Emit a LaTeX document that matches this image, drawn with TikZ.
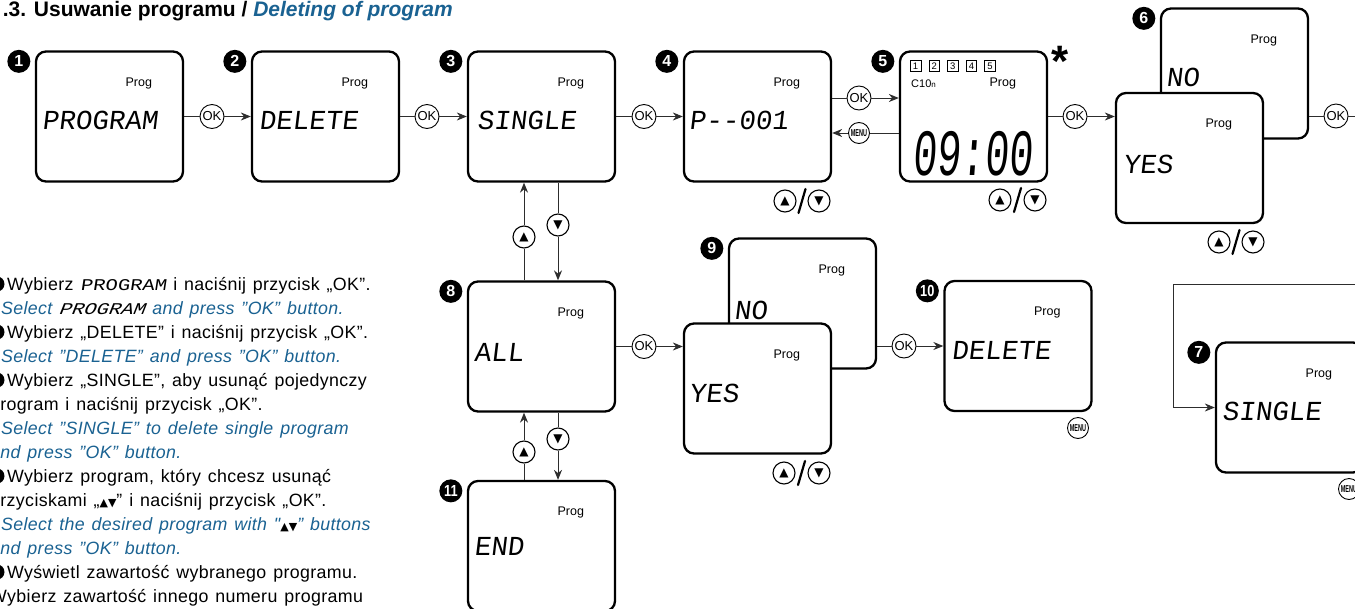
\documentclass[tikz,border=0pt]{standalone}
\usepackage{graphicx}
\usepackage{fontspec}
\setmainfont{Liberation Sans}
\newfontfamily\bodyfont{Liberation Sans}[LetterSpace=2,WordSpace=1.3]
\newfontfamily\lcdfont{Liberation Mono}[FakeSlant=0.12]
\newfontfamily\symfont{DejaVu Sans}
\usetikzlibrary{arrows.meta,positioning,calc}
\definecolor{mnblue}{RGB}{26,98,146}
\definecolor{mnline}{RGB}{45,45,45}
\newcommand{\lcdword}[1]{{\color{black}\lcdfont\fontsize{20.5}{20}\selectfont\scalebox{1}[0.8]{#1}}}
\newcommand{\updn}{{\color{black}\symfont\fontsize{11}{11}\selectfont ▲▼}}

\begin{document}
\begin{tikzpicture}[
  x=1pt,y=-1pt,
  every node/.style={font=\fontsize{11}{13}\selectfont},
  screen/.style={draw,line width=2.3pt,rounded corners=10pt,fill=white,
                 minimum width=147pt,minimum height=130pt,inner sep=0pt},
  badge/.style={circle,fill=black,text=white,inner sep=0pt,minimum size=23pt,
                font=\fontsize{16}{16}\selectfont\bfseries},
  txtbadge/.style={badge,minimum size=15pt,font=\fontsize{10}{10}\selectfont\bfseries},
  okbtn/.style={circle,draw,line width=0.9pt,fill=white,inner sep=0pt,minimum size=24pt,
                font=\fontsize{13}{13}\selectfont},
  menubtn/.style={circle,draw,line width=0.9pt,fill=white,inner sep=0pt,minimum size=21pt,
                  font=\fontsize{10}{10}\selectfont\bfseries},
  arrbtn/.style={circle,draw,line width=1.1pt,fill=white,inner sep=0pt,minimum size=22pt,
                 font=\symfont\fontsize{12}{12}\selectfont},
  lcd/.style={anchor=west,inner sep=0pt,font=\lcdfont\fontsize{27.5}{27.5}\selectfont},
  proglbl/.style={inner sep=0pt,font=\fontsize{12.5}{12.5}\selectfont},
  numsq/.style={draw,line width=0.6pt,inner sep=0pt,minimum size=10.5pt,font=\fontsize{9.5}{9.5}\selectfont},
  conn/.style={line width=1pt,draw=mnline},
  arr/.style={conn,-{Stealth[length=10pt,width=8pt]}},
  slash/.style={line width=2.2pt,line cap=round},
  txt/.style={anchor=base west,inner sep=0pt,font=\bodyfont\fontsize{17.8}{18}\selectfont},
  entxt/.style={txt,text=mnblue,font=\bodyfont\fontsize{17.8}{18}\selectfont\itshape},
]
  \useasboundingbox (0,0) rectangle (1355,608);
  \fill[white] (0,0) rectangle (1355,608);
  \clip (0,0) rectangle (1355,608);

  % Title
  \node[anchor=base east,inner sep=0pt,font=\fontsize{21}{21}\selectfont\bfseries] (title) at (453,16.5)
    {.3. Usuwanie programu / \textcolor{mnblue}{\itshape Deleting of program}};

  % Screens, top row
  \node[screen] (s1) at (109.5,116.5) {};
  \node[screen] (s2) at (325.5,116.5) {};
  \node[screen] (s3) at (541.5,116.5) {};
  \node[screen] (s4) at (757.5,116.5) {};
  \node[screen] (s5) at (973.5,116.5) {};
  \node[screen] (s6n) at (1234.5,73.5) {};
  \node[screen] (s6y) at (1189.5,158) {};

  % Screens, lower part
  \node[screen] (s8) at (541.5,346.5) {};
  \node[screen] (s11) at (541.5,546) {};
  \node[screen] (s9n) at (802.5,303.5) {};
  \node[screen] (s9y) at (757.5,388.5) {};
  \node[screen] (s10) at (1018,346) {};
  \node[screen] (s7) at (1289.5,407.5) {};

  % Badges
  \node[badge] (b1) at ($(s1.north west)+(-16,11)$) {1};
  \node[badge] (b2) at ($(s2.north west)+(-16,11)$) {2};
  \node[badge] (b3) at ($(s3.north west)+(-16,11)$) {3};
  \node[badge] (b4) at ($(s4.north west)+(-16,11)$) {4};
  \node[badge] (b5) at ($(s5.north west)+(-16,11)$) {5};
  \node[badge] (b6) at ($(s6n.north west)+(-16,11)$) {6};
  \node[badge] (b7) at ($(s7.north west)+(-16,11)$) {7};
  \node[badge] (b8) at ($(s8.north west)+(-16,11)$) {8};
  \node[badge] (b9) at ($(s9n.north west)+(-16,11)$) {9};
  \node[badge] (b10) at ($(s10.north west)+(-16,11)$) {\scalebox{0.8}[1]{10}};
  \node[badge] (b11) at ($(s11.north west)+(-16,11)$) {\scalebox{0.8}[1]{11}};

  % Prog labels
  \foreach \s in {s1,s2,s3,s4,s5,s6n,s6y,s7,s8,s9n,s9y,s10,s11}
    \node[proglbl] (pg-\s) at ($(\s.north west)+(104,33)$) {Prog};

  % Display texts
  \node[lcd] (d1) at ($(s1.west)+(7,4)$) {PROGRAM};
  \node[lcd] (d2) at ($(s2.west)+(8,4)$) {DELETE};
  \node[lcd] (d3) at ($(s3.west)+(10,4)$) {SINGLE};
  \node[lcd] (d4) at ($(s4.west)+(6,4)$) {P--001};
  \node[lcd] (d6n) at ($(s6n.west)+(6,4)$) {NO};
  \node[lcd] (d6y) at ($(s6y.west)+(8,6)$) {YES};
  \node[lcd] (d8) at ($(s8.west)+(7,6)$) {ALL};
  \node[lcd] (d11) at ($(s11.north west)+(7,67)$) {END};
  \node[lcd] (d9n) at ($(s9n.west)+(6,7)$) {NO};
  \node[lcd] (d9y) at ($(s9y.west)+(6,5)$) {YES};
  \node[lcd] (d10) at ($(s10.west)+(8,4)$) {DELETE};
  \node[lcd] (d7) at ($(s7.west)+(7,4)$) {SINGLE};

  % Clock screen details
  \foreach \i in {1,...,5}
    \node[numsq] (q\i) at ({897+18.6*\i},66) {\i};
  \node[anchor=west,inner sep=0pt,font=\fontsize{11}{11}\selectfont] (c10) at (911,84)
    {C10{\fontsize{8}{8}\selectfont n}};
  \node[inner sep=0pt,font=\lcdfont\fontsize{40}{40}\selectfont] (clock) at (972.5,154)
    {\scalebox{1}[1.65]{09:00}};
  \node[inner sep=0pt,font=\fontsize{44}{44}\selectfont\bfseries] (star) at (1060,61) {*};

  % OK / MENU buttons
  \node[okbtn] (ok12) at (212,116.5) {OK};
  \node[okbtn] (ok23) at (427,116.5) {OK};
  \node[okbtn] (ok34) at (644,116.5) {OK};
  \node[okbtn] (ok45) at (859,98) {OK};
  \node[menubtn] (mn54) at (859,133) {\scalebox{0.55}[1]{MENU}};
  \node[okbtn] (ok56) at (1075,116.5) {OK};
  \node[okbtn] (ok6x) at (1336,116) {OK};
  \node[okbtn] (ok89) at (644,346.5) {OK};
  \node[okbtn] (ok910) at (904,346) {OK};
  \node[menubtn] (mn10) at (1078,428) {\scalebox{0.55}[1]{MENU}};
  \node[menubtn] (mn7) at (1349,489) {\scalebox{0.55}[1]{MENU}};

  % Arrow buttons on the vertical links
  \node[arrbtn] (up38) at (524,237) {▲};
  \node[arrbtn] (dn38) at (558,225) {▼};
  \node[arrbtn] (up811) at (524,452) {▲};
  \node[arrbtn] (dn811) at (558,439) {▼};

  % Arrow button pairs
  \node[arrbtn] (p4u) at (785,201) {▲};
  \node[arrbtn] (p4d) at (819,201) {▼};
  \node[arrbtn] (p5u) at (1000,200) {▲};
  \node[arrbtn] (p5d) at (1035,200) {▼};
  \node[arrbtn] (p6u) at (1219,242) {▲};
  \node[arrbtn] (p6d) at (1253,242) {▼};
  \node[arrbtn] (p9u) at (784,473) {▲};
  \node[arrbtn] (p9d) at (819,473) {▼};
  \foreach \p in {p4,p5,p6,p9}
    \draw[slash] ($(\p u)!0.5!(\p d)+(-3.5,12)$) -- ($(\p u)!0.5!(\p d)+(3.5,-12)$);

  % Connectors, top row
  \draw[conn] (s1) -- (ok12);
  \draw[arr] (ok12) -- (s2);
  \draw[conn] (s2) -- (ok23);
  \draw[arr] (ok23) -- (s3);
  \draw[conn] (s3) -- (ok34);
  \draw[arr] (ok34) -- (s4);
  \draw[conn] (s4.east |- ok45) -- (ok45);
  \draw[arr] (ok45) -- (s5.west |- ok45);
  \draw[conn] (s5.west |- mn54) -- (mn54);
  \draw[arr] (mn54) -- (s4.east |- mn54);
  \draw[conn] (s5) -- (ok56);
  \draw[arr] (ok56) -- (s6y.west |- ok56);
  \coordinate (exitR) at (1380,116);
  \draw[conn] (s6n.east |- ok6x) -- (ok6x);
  \draw[conn] (ok6x) -- (exitR);

  % Loop into screen 7
  \coordinate (loopin) at (1380,284);
  \coordinate (loopc) at (1173,284);
  \draw[arr] (loopin) -- (loopc) |- (s7.west);

  % Vertical links
  \draw[conn] (up38 |- s8.north) -- (up38);
  \draw[arr] (up38) -- (up38 |- s3.south);
  \draw[conn] (dn38 |- s3.south) -- (dn38);
  \draw[arr] (dn38) -- (dn38 |- s8.north);
  \draw[conn] (up811 |- s11.north) -- (up811);
  \draw[arr] (up811) -- (up811 |- s8.south);
  \draw[conn] (dn811 |- s8.south) -- (dn811);
  \draw[arr] (dn811) -- (dn811 |- s11.north);

  % Connectors, lower part
  \draw[conn] (s8) -- (ok89);
  \draw[arr] (ok89) -- (s9y.west |- ok89);
  \draw[conn] (s9n.east |- ok910) -- (ok910);
  \draw[arr] (ok910) -- (s10);

  % Instructions
  \node[txtbadge] (tb1) at (-3,284) {1};
  \node[txt] (t1) at (7,290) {Wybierz \lcdword{PROGRAM} i naciśnij przycisk „OK”.};
  \node[entxt] (t2) at (1,314) {Select \lcdword{PROGRAM} and press ”OK” button.};
  \node[txtbadge] (tb2) at (-3,332) {2};
  \node[txt] (t3) at (7,338) {Wybierz „DELETE” i naciśnij przycisk „OK”.};
  \node[entxt] (t4) at (1,362) {Select ”DELETE” and press ”OK” button.};
  \node[txtbadge] (tb3) at (-3,380) {3};
  \node[txt] (t5) at (7,386) {Wybierz „SINGLE”, aby usunąć pojedynczy};
  \node[txt] (t6) at (-10,410) {program i naciśnij przycisk „OK”.};
  \node[entxt] (t7) at (1,434) {Select ”SINGLE” to delete single program};
  \node[entxt] (t8) at (-10,458) {and press ”OK” button.};
  \node[txtbadge] (tb4) at (-3,476) {4};
  \node[txt] (t9) at (7,482) {Wybierz program, który chcesz usunąć};
  \node[txt] (t10) at (-10,506) {przyciskami „\updn” i naciśnij przycisk „OK”.};
  \node[entxt] (t11) at (1,530) {Select the desired program with "\updn” buttons};
  \node[entxt] (t12) at (-10,554) {and press ”OK” button.};
  \node[txtbadge] (tb5) at (-3,572) {5};
  \node[txt] (t13) at (7,578) {Wyświetl zawartość wybranego programu.};
  \node[txt] (t14) at (-10,602) {Wybierz zawartość innego numeru programu};
\end{tikzpicture}
\end{document}
